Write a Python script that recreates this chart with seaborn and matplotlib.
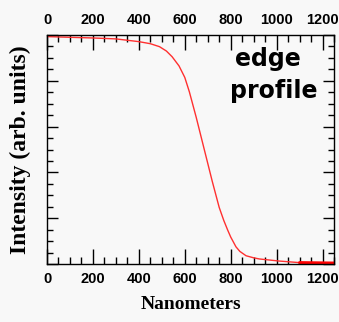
import matplotlib
matplotlib.use("Agg")
import matplotlib.pyplot as plt
import seaborn as sns
import pandas as pd
from matplotlib.ticker import MultipleLocator

# Data
nanometers = [0, 100, 200, 300, 400, 450, 490, 520, 545, 575, 600, 620, 650,
              680, 700, 720, 750, 770, 787, 800, 823, 840, 867, 900, 925,
              1010, 1100, 1250]
intensity = [0.993, 0.990, 0.987, 0.983, 0.971, 0.962, 0.949, 0.930, 0.905,
             0.865, 0.815, 0.752, 0.640, 0.520, 0.440, 0.360, 0.247, 0.190,
             0.148, 0.118, 0.075, 0.055, 0.036, 0.027, 0.022, 0.013, 0.006,
             0.004]
tail_nm = [1100, 1250]
tail_val = [0.006, 0.004]
x_ticks = [0, 200, 400, 600, 800, 1000, 1200]

sns.set_theme(style="white")
bg = "#f8f8f8"
fig = plt.figure(figsize=(3.39, 3.22), dpi=100, facecolor=bg)
ax = fig.add_axes([47 / 339, 1 - 264 / 322, 287 / 339, 229 / 322])
ax.set_facecolor(bg)

df = pd.DataFrame({"nm": nanometers, "val": intensity})
sns.lineplot(data=df, x="nm", y="val", ax=ax, color="#ff3030", linewidth=1.0)
tail = pd.DataFrame({"nm": tail_nm, "val": tail_val})
sns.lineplot(data=tail, x="nm", y="val", ax=ax, color="#ff0000", linewidth=2.2)

ax.set_xlim(0, 1250)
ax.set_ylim(0, 1)
ax.set_xticks(x_ticks)
ax.xaxis.set_minor_locator(MultipleLocator(50))
ax.yaxis.set_major_locator(MultipleLocator(0.2))
ax.yaxis.set_minor_locator(MultipleLocator(0.05))

for s in ax.spines.values():
    s.set_color("black")
    s.set_linewidth(1.0)

ax.tick_params(axis="x", which="major", direction="in", length=11, width=1,
               top=True, bottom=True, labeltop=True, labelbottom=True, pad=6,
               color="black")
ax.tick_params(axis="x", which="minor", direction="in", length=5, width=1,
               top=True, bottom=True, color="black")
ax.tick_params(axis="y", which="major", direction="in", length=8, width=1,
               left=True, right=True, labelleft=False, color="black")
ax.tick_params(axis="y", which="minor", direction="in", length=4, width=1,
               left=True, right=True, color="black")

tick_font = ["Liberation Sans", "DejaVu Sans"]
for lab in ax.xaxis.get_ticklabels(which="major"):
    lab.set_fontfamily(tick_font)
    lab.set_fontweight("bold")
    lab.set_fontsize(10.5)
    lab.set_color("black")

serif = ["Liberation Serif", "DejaVu Serif"]
ax.set_xlabel("Nanometers", fontfamily=serif,
              fontweight="bold", fontsize=14, color="black", labelpad=7)
ax.set_ylabel("Intensity (arb. units)", fontfamily=serif,
              fontweight="bold", fontsize=17, color="black", labelpad=8)

ax.text((268 - 47) / 287, (264 - 66) / 229, "edge", transform=ax.transAxes,
        ha="center", va="baseline", fontsize=17, fontweight="bold",
        color="black", fontfamily=["DejaVu Sans"])
ax.text((274 - 47) / 287, (264 - 98) / 229, "profile", transform=ax.transAxes,
        ha="center", va="baseline", fontsize=17, fontweight="bold",
        color="black", fontfamily=["DejaVu Sans"])

fig.savefig("out.png", dpi=100, facecolor=bg)
